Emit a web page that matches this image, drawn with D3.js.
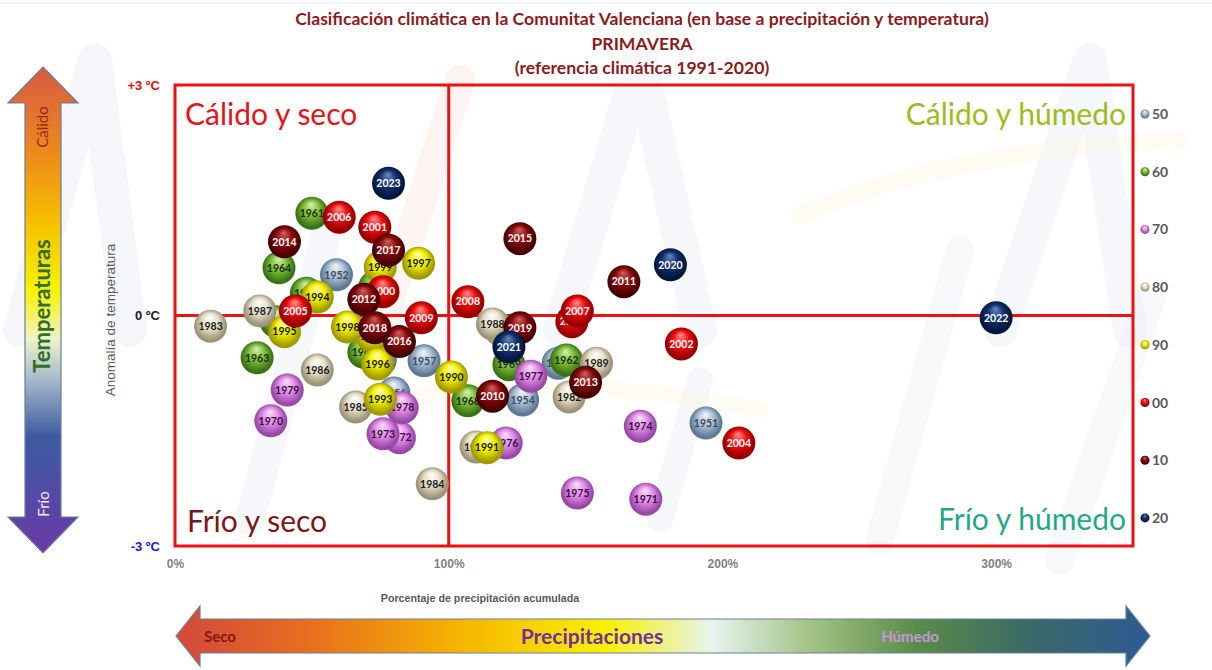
<!DOCTYPE html>
<html>
<head>
<meta charset="utf-8">
<script src="https://cdn.jsdelivr.net/npm/d3@7"></script>
<style>
  html, body { margin: 0; padding: 0; background: #fff; }
  svg { display: block; }
</style>
</head>
<body>
<svg id="chart" width="1212" height="670"></svg>
<script>
// ---------------- DATA ----------------
const years = [1951,1952,1953,1954,1956,1957,1958,1959,1960,1961,1962,1963,1964,1965,1966,1967,1968,1969,
  1970,1971,1972,1973,1974,1975,1976,1977,1978,1979,1980,1981,1982,1983,1984,1985,1986,1987,1988,1989,
  1990,1991,1992,1993,1994,1995,1996,1997,1998,1999,2000,2001,2002,2003,2004,2005,2006,2007,2008,2009,
  2010,2011,2012,2013,2014,2015,2016,2017,2018,2019,2020,2021,2022,2023];
const precipitation = [194,59,70,127,80,91,75,140,73,50,143,30,38,48,37,69,107,122,
  35,172,82,76,170,147,121,130,83,41,110,119,144,13,94,66,52,31,116,154,
  101,114,72,75,52,40,74,89,63,75,76,73,185,145,206,44,60,147,107,90,
  116,164,69,150,40,126,82,78,73,126,181,122,300,78];
const anomaly = [-1.40,0.53,-0.34,-1.10,-1.01,-0.59,-0.58,-0.62,0.37,1.33,-0.58,-0.55,0.62,0.29,-0.08,-0.48,-1.11,-0.64,
  -1.37,-2.39,-1.59,-1.54,-1.44,-2.31,-1.66,-0.79,-1.20,-0.97,-1.71,-0.19,-1.06,-0.14,-2.19,-1.19,-0.71,0.06,-0.11,-0.62,
  -0.80,-1.72,-0.27,-1.09,0.24,-0.21,-0.63,0.68,-0.15,0.63,0.31,1.15,-0.37,-0.08,-1.66,0.06,1.28,0.06,0.18,-0.03,
  -1.05,0.44,0.21,-0.87,0.96,1.00,-0.34,0.85,-0.16,-0.16,0.66,-0.41,-0.03,1.72];
const decades = ["50","60","70","80","90","00","10","20"];
const xTicks = [0,100,200,300];
const yTicks = [3,0,-3];
const yTickLabels = ["+3 ºC","0 ºC","-3 ºC"];
const quadrantLabels = ["Cálido y seco","Cálido y húmedo","Frío y seco","Frío y húmedo"];
const titleLines = ["Clasificación climática en la Comunitat Valenciana (en base a precipitación y temperatura)",
  "PRIMAVERA","(referencia climática 1991-2020)"];

// ---------------- STYLES ----------------
const decadeStyle = {
  "50": {light:"#f2f6fb", base:"#abc0d6", dark:"#5f7893", text:"#3a4a60"},
  "60": {light:"#d6f2a8", base:"#7cbc3c", dark:"#3a7214", text:"#1a2e0c"},
  "70": {light:"#fbe0fb", base:"#e08de6", dark:"#9a48a8", text:"#3a0c42"},
  "80": {light:"#ffffff", base:"#e6e0c8", dark:"#9c9478", text:"#1a1a1a"},
  "90": {light:"#ffffb0", base:"#f0ef00", dark:"#a09a00", text:"#1a1a00"},
  "00": {light:"#ff9090", base:"#ee0c0c", dark:"#950000", text:"#ffffff"},
  "10": {light:"#d06060", base:"#8a0a0a", dark:"#450000", text:"#ffffff"},
  "20": {light:"#6a88c0", base:"#10306e", dark:"#05163c", text:"#ffffff"}
};
const decadeOf = y => String(Math.floor((y % 100) / 10) * 10).padStart(2, "0");

const W = 1212, H = 670;
const svg = d3.select("#chart");
const defs = svg.append("defs");

decades.forEach(k => {
  const s = decadeStyle[k];
  const g = defs.append("radialGradient").attr("id", "sph" + k)
    .attr("cx", "50%").attr("cy", "50%").attr("r", "55%")
    .attr("fx", "48%").attr("fy", "22%");
  g.append("stop").attr("offset", "0%").attr("stop-color", s.light);
  g.append("stop").attr("offset", "45%").attr("stop-color", s.base);
  g.append("stop").attr("offset", "85%").attr("stop-color", s.dark);
  g.append("stop").attr("offset", "100%").attr("stop-color", s.dark);
});

const vg = defs.append("linearGradient").attr("id", "vgrad").attr("x1", 0).attr("y1", 0).attr("x2", 0).attr("y2", 1);
[["0%","#d65a42"],["18%","#ee8a1c"],["32%","#f6c000"],["46%","#f8f200"],["56%","#eef2c8"],["64%","#a9bccb"],["76%","#3c5aa2"],["100%","#6b3aa8"]]
  .forEach(([o,c]) => vg.append("stop").attr("offset", o).attr("stop-color", c));
const hg = defs.append("linearGradient").attr("id", "hgrad").attr("x1", 0).attr("y1", 0).attr("x2", 1).attr("y2", 0);
[["0%","#d2483c"],["14%","#e8701e"],["30%","#f6b800"],["44%","#f8f000"],["55%","#e6f4ee"],["65%","#a4c488"],["76%","#5a8c48"],["87%","#3c6a66"],["100%","#2c5a92"]]
  .forEach(([o,c]) => hg.append("stop").attr("offset", o).attr("stop-color", c));

svg.append("rect").attr("width", W).attr("height", H).attr("fill", "#ffffff");
svg.append("line").attr("x1", 0).attr("x2", W).attr("y1", 3).attr("y2", 3).attr("stroke", "#e6e6e6");

// faint watermark strokes
const wm = svg.append("g").attr("fill", "none").attr("stroke-linecap", "round").attr("stroke-linejoin", "round");
const wmPaths = [
  {d:"M20,330 L95,60 L130,330", c:"#dfe4ee", w:34},
  {d:"M380,330 L460,80", c:"#f6dfd6", w:30},
  {d:"M560,330 L640,60 L700,330", c:"#e3e7f0", w:34},
  {d:"M1000,330 L1090,60 L1130,330", c:"#e3e7f0", w:34},
  {d:"M250,520 L330,220", c:"#e6e9f1", w:30},
  {d:"M660,520 L700,380", c:"#e6e9f1", w:26},
  {d:"M880,540 L960,250", c:"#e8ebf2", w:28},
  {d:"M1060,560 L1150,300", c:"#e8ebf2", w:30},
  {d:"M800,215 Q950,150 1180,140", c:"#fbf3dc", w:18},
  {d:"M400,400 Q560,370 760,410", c:"#fbf3dc", w:16}
];
wmPaths.forEach(p => wm.append("path").attr("d", p.d).attr("stroke", p.c).attr("stroke-width", p.w).attr("opacity", 0.35));

// ---------------- SCALES ----------------
const plot = {left: 175, right: 1133, top: 85, bottom: 546};
const x = d3.scaleLinear().domain([0, 350]).range([plot.left, plot.right]);
const y = d3.scaleLinear().domain([-3, 3]).range([plot.bottom, plot.top]);

// ---------------- TITLE ----------------
const titleG = svg.append("g").attr("font-family", "Lato, 'Open Sans', sans-serif")
  .attr("fill", "#8b1c1c").attr("text-anchor", "middle").attr("font-weight", 700).attr("font-size", 17.6);
titleLines.forEach((t, i) => titleG.append("text").attr("x", 642).attr("y", 25 + i * 24.5).text(t));

// ---------------- QUADRANT LABELS ----------------
const ql = svg.append("g").attr("font-family", "Lato, 'Open Sans', sans-serif").attr("font-size", 30);
ql.append("text").attr("x", plot.left + 10).attr("y", 125).attr("fill", "#e3141b").text(quadrantLabels[0]);
ql.append("text").attr("x", plot.right - 7).attr("y", 125).attr("text-anchor", "end").attr("fill", "#9cbc20").text(quadrantLabels[1]);
ql.append("text").attr("x", plot.left + 12).attr("y", 532).attr("fill", "#7a1717").text(quadrantLabels[2]);
ql.append("text").attr("x", plot.right - 7).attr("y", 530).attr("text-anchor", "end").attr("fill", "#1fa987").text(quadrantLabels[3]);

// ---------------- PLOT FRAME & CROSS ----------------
svg.append("rect").attr("x", plot.left).attr("y", plot.top)
  .attr("width", plot.right - plot.left).attr("height", plot.bottom - plot.top)
  .attr("fill", "none").attr("stroke", "#ee1111").attr("stroke-width", 3);
svg.append("line").attr("x1", x(100)).attr("x2", x(100)).attr("y1", plot.top).attr("y2", plot.bottom)
  .attr("stroke", "#ee1111").attr("stroke-width", 3);
svg.append("line").attr("x1", plot.left).attr("x2", plot.right).attr("y1", y(0)).attr("y2", y(0))
  .attr("stroke", "#ee1111").attr("stroke-width", 3);

// ---------------- AXES ----------------
const xAxis = svg.append("g").attr("transform", `translate(0,${plot.bottom})`)
  .call(d3.axisBottom(x).tickValues(xTicks).tickFormat(d => d + "%").tickSize(0).tickPadding(13));
xAxis.select(".domain").remove();
xAxis.selectAll("text").attr("font-family", "'Liberation Sans', Arial, sans-serif")
  .attr("font-size", 12).attr("font-weight", 700).attr("fill", "#7f7f7f");

const yColors = ["#e01010", "#222222", "#1a1ad0"];
const yAxis = svg.append("g").attr("transform", `translate(${plot.left},0)`)
  .call(d3.axisLeft(y).tickValues(yTicks).tickFormat((d, i) => yTickLabels[i]).tickSize(0).tickPadding(15));
yAxis.select(".domain").remove();
yAxis.selectAll("text").attr("font-family", "'Liberation Sans', Arial, sans-serif")
  .attr("font-size", 13).attr("font-weight", 700).attr("fill", (d, i) => yColors[i]);

svg.append("text").attr("transform", "translate(115,320) rotate(-90)").attr("text-anchor", "middle")
  .attr("font-family", "'Liberation Sans', Arial, sans-serif").attr("font-size", 13.5).attr("fill", "#595959")
  .text("Anomalía de temperatura");
svg.append("text").attr("x", 480).attr("y", 602).attr("text-anchor", "middle")
  .attr("font-family", "'Liberation Sans', Arial, sans-serif").attr("font-size", 10.7).attr("font-weight", 700)
  .attr("fill", "#595959").text("Porcentaje de precipitación acumulada");

// ---------------- BUBBLES ----------------
const data = years.map((yr, i) => ({year: yr, p: precipitation[i], t: anomaly[i], dec: decadeOf(yr)}));
const R = 16.5;
const pts = svg.append("g").selectAll("g").data(data).join("g")
  .attr("transform", d => `translate(${x(d.p)},${y(d.t)})`);
pts.append("circle").attr("r", R).attr("fill", d => `url(#sph${d.dec})`);
pts.append("text").attr("text-anchor", "middle").attr("dy", "0.36em")
  .attr("font-family", "Lato, 'Open Sans', sans-serif").attr("font-weight", 700).attr("font-size", 10.5)
  .attr("fill", d => decadeStyle[d.dec].text).text(d => d.year);

// ---------------- LEGEND ----------------
const lg = svg.append("g").selectAll("g").data(decades).join("g")
  .attr("transform", (d, i) => `translate(1145,${114 + i * 57.7})`);
lg.append("circle").attr("r", 4.5).attr("fill", d => `url(#sph${d})`);
lg.append("text").attr("x", 7).attr("dy", "0.36em").attr("font-family", "Lato, 'Open Sans', sans-serif")
  .attr("font-weight", 700).attr("font-size", 14).attr("fill", "#595959").text(d => d);

// ---------------- LEFT ARROW (Temperaturas) ----------------
const va = {cx: 43, top: 67, bottom: 553, headH: 36, headHalf: 35, shaftHalf: 18};
const vPath = `M${va.cx},${va.top} L${va.cx + va.headHalf},${va.top + va.headH} L${va.cx + va.shaftHalf},${va.top + va.headH}
  L${va.cx + va.shaftHalf},${va.bottom - va.headH} L${va.cx + va.headHalf},${va.bottom - va.headH} L${va.cx},${va.bottom}
  L${va.cx - va.headHalf},${va.bottom - va.headH} L${va.cx - va.shaftHalf},${va.bottom - va.headH}
  L${va.cx - va.shaftHalf},${va.top + va.headH} L${va.cx - va.headHalf},${va.top + va.headH} Z`;
svg.append("path").attr("d", vPath).attr("fill", "url(#vgrad)").attr("stroke", "#6d7f95").attr("stroke-width", 1.2);
const vt = svg.append("g").attr("font-family", "Lato, 'Open Sans', sans-serif").attr("text-anchor", "middle");
vt.append("text").attr("transform", "translate(48,127) rotate(-90)").attr("font-size", 15).attr("fill", "#a12812").text("Cálido");
vt.append("text").attr("transform", "translate(50,306) rotate(-90)").attr("font-size", 22).attr("font-weight", 700)
  .attr("fill", "#2f6e2c").text("Temperaturas");
vt.append("text").attr("transform", "translate(49,504) rotate(-90)").attr("font-size", 15).attr("fill", "#f4e6f6").text("Frío");

// ---------------- BOTTOM ARROW (Precipitaciones) ----------------
const ha = {cy: 636, left: 176, right: 1150, headW: 24, headHalf: 30, shaftHalf: 17};
const hPath = `M${ha.left},${ha.cy} L${ha.left + ha.headW},${ha.cy - ha.headHalf} L${ha.left + ha.headW},${ha.cy - ha.shaftHalf}
  L${ha.right - ha.headW},${ha.cy - ha.shaftHalf} L${ha.right - ha.headW},${ha.cy - ha.headHalf} L${ha.right},${ha.cy}
  L${ha.right - ha.headW},${ha.cy + ha.headHalf} L${ha.right - ha.headW},${ha.cy + ha.shaftHalf}
  L${ha.left + ha.headW},${ha.cy + ha.shaftHalf} L${ha.left + ha.headW},${ha.cy + ha.headHalf} Z`;
svg.append("path").attr("d", hPath).attr("fill", "url(#hgrad)").attr("stroke", "#6d7f95").attr("stroke-width", 1.2);
const ht = svg.append("g").attr("font-family", "Lato, 'Open Sans', sans-serif");
ht.append("text").attr("x", 204).attr("y", 642).attr("font-size", 15).attr("font-weight", 700).attr("fill", "#8a1414").text("Seco");
ht.append("text").attr("x", 592).attr("y", 644).attr("text-anchor", "middle").attr("font-size", 21).attr("font-weight", 700)
  .attr("fill", "#7030a0").text("Precipitaciones");
ht.append("text").attr("x", 910).attr("y", 642).attr("text-anchor", "middle").attr("font-size", 15).attr("font-weight", 700)
  .attr("fill", "#c896dc").text("Húmedo");
</script>
</body>
</html>
